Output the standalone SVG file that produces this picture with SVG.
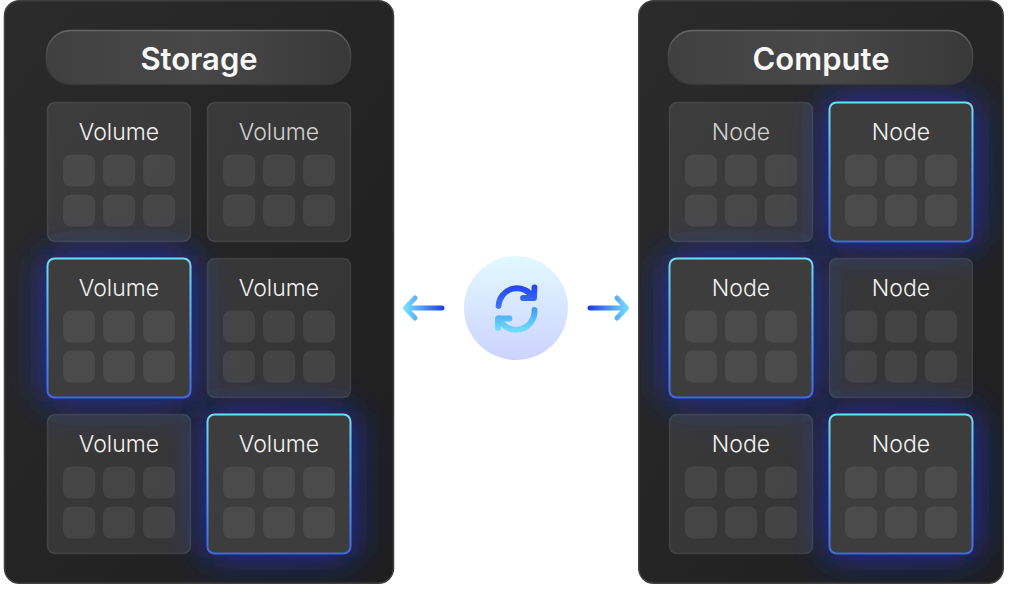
<svg xmlns="http://www.w3.org/2000/svg" width="1019" height="616" viewBox="0 0 1019 616">
<style>
text{font-family:"Inter","Liberation Sans",sans-serif;text-anchor:middle}
.head{font-size:31px;font-weight:600;fill:#f7f7f7}
.lab{font-size:23px;font-weight:300;fill:#f2f2f2}
.dim{fill:#d2d2d2}
.panel{fill:url(#panelFill);stroke:#3f3f3f;stroke-width:1.5}
.pill{fill:url(#pillFill);stroke:url(#pillStroke);stroke-width:1.5}
.tile{fill:#fff;fill-opacity:.09;stroke:#fff;stroke-opacity:.1;stroke-width:1.5}
.tileOn{fill:#3d3d3d;stroke:url(#onStroke);stroke-width:2}
.halo{fill:#1b35d8;fill-opacity:.72;filter:url(#blur)}
.c{fill:#fff;fill-opacity:.075}
.on .c{fill:#565656;fill-opacity:1}
.arrow{fill:none;stroke-width:5;stroke-linecap:round;stroke-linejoin:round}
.icon{stroke-width:5.8}
</style>
<defs>
<linearGradient id="panelFill" x1="0" y1="0" x2="1" y2="1"><stop offset="0" stop-color="#2b2b2b"/><stop offset="1" stop-color="#1e1e1e"/></linearGradient>
<linearGradient id="pillFill" x1="0" y1="0" x2="1" y2="0"><stop offset="0" stop-color="#404040"/><stop offset=".5" stop-color="#484848"/><stop offset="1" stop-color="#383838"/></linearGradient>
<linearGradient id="pillStroke" x1="0" y1="0" x2="0" y2="1"><stop offset="0" stop-color="#666"/><stop offset=".5" stop-color="#444"/><stop offset="1" stop-color="#363636"/></linearGradient>
<linearGradient id="onStroke" x1="0" y1="0" x2="0" y2="1"><stop offset="0" stop-color="#6fdcf6"/><stop offset="1" stop-color="#3f69e6"/></linearGradient>
<linearGradient id="circle" x1="0" y1="0" x2="0" y2="1"><stop offset="0" stop-color="#e2f9ff"/><stop offset="1" stop-color="#cdd3ff"/></linearGradient>
<linearGradient id="arcTop" gradientUnits="userSpaceOnUse" x1="0" y1="284" x2="0" y2="308"><stop offset="0" stop-color="#2340ee"/><stop offset="1" stop-color="#3f78f4"/></linearGradient>
<linearGradient id="arcBot" gradientUnits="userSpaceOnUse" x1="0" y1="308" x2="0" y2="331"><stop offset="0" stop-color="#3f9cf2"/><stop offset="1" stop-color="#72def9"/></linearGradient>
<linearGradient id="arrL" gradientUnits="userSpaceOnUse" x1="405" y1="0" x2="444" y2="0"><stop offset="0" stop-color="#76e0fb"/><stop offset="1" stop-color="#1f3de8"/></linearGradient>
<linearGradient id="arrR" gradientUnits="userSpaceOnUse" x1="589" y1="0" x2="628" y2="0"><stop offset="0" stop-color="#1f3de8"/><stop offset="1" stop-color="#76e0fb"/></linearGradient>
<filter id="blur" x="-50%" y="-50%" width="200%" height="200%"><feGaussianBlur stdDeviation="18"/></filter>
<clipPath id="clipL"><rect x="5" y="1" width="388" height="582" rx="15"/></clipPath>
<clipPath id="clipR"><rect x="639" y="1" width="364" height="582" rx="15"/></clipPath>
<g id="cells">
<rect class="c" x="16" y="52" width="32" height="32" rx="8"/><rect class="c" x="56" y="52" width="32" height="32" rx="8"/><rect class="c" x="96" y="52" width="32" height="32" rx="8"/>
<rect class="c" x="16" y="92" width="32" height="32" rx="8"/><rect class="c" x="56" y="92" width="32" height="32" rx="8"/><rect class="c" x="96" y="92" width="32" height="32" rx="8"/>
</g>
<rect id="t" x="0.5" y="0" width="143" height="139" rx="7"/>
<rect id="h" x="-4" y="-4" width="152" height="147" rx="12"/>
</defs>
<rect width="1019" height="616" fill="#fff"/>

<g id="storage-panel">
<rect class="panel" x="4.5" y="0.75" width="389" height="582.5" rx="15"/>
<g clip-path="url(#clipL)"><use href="#h" class="halo" x="47" y="258.5"/><use href="#h" class="halo" x="207" y="414.5"/></g>
</g>
<g id="compute-panel">
<rect class="panel" x="638.75" y="0.75" width="364.5" height="582.5" rx="15"/>
<g clip-path="url(#clipR)"><use href="#h" class="halo" x="829" y="102.5"/><use href="#h" class="halo" x="669" y="258.500"/><use href="#h" class="halo" x="829" y="414.5"/></g>
</g>

<g id="storage-title"><rect class="pill" x="46.5" y="30.5" width="304" height="54" rx="24"/><text class="head" x="199" y="70">Storage</text></g>
<g id="compute-title"><rect class="pill" x="668.5" y="30.5" width="304" height="54" rx="24"/><text class="head" x="821" y="70">Compute</text></g>

<g id="v1" transform="translate(47 102.5)"><use href="#t" class="tile"/><use href="#cells"/><text class="lab" x="72" y="37.500">Volume</text></g>
<g id="v2" transform="translate(207 102.5)"><use href="#t" class="tile"/><use href="#cells"/><text class="lab dim" x="72" y="37.500">Volume</text></g>
<g id="v3" class="on" transform="translate(47 258.5)"><use href="#t" class="tileOn"/><use href="#cells"/><text class="lab" x="72" y="37.500">Volume</text></g>
<g id="v4" transform="translate(207 258.5)"><use href="#t" class="tile"/><use href="#cells"/><text class="lab" x="72" y="37.500">Volume</text></g>
<g id="v5" transform="translate(47 414.5)"><use href="#t" class="tile"/><use href="#cells"/><text class="lab" x="72" y="37.500">Volume</text></g>
<g id="v6" class="on" transform="translate(207 414.5)"><use href="#t" class="tileOn"/><use href="#cells"/><text class="lab" x="72" y="37.500">Volume</text></g>

<g id="n1" transform="translate(669 102.5)"><use href="#t" class="tile"/><use href="#cells"/><text class="lab dim" x="72" y="37.500">Node</text></g>
<g id="n2" class="on" transform="translate(829 102.5)"><use href="#t" class="tileOn"/><use href="#cells"/><text class="lab" x="72" y="37.500">Node</text></g>
<g id="n3" class="on" transform="translate(669 258.5)"><use href="#t" class="tileOn"/><use href="#cells"/><text class="lab" x="72" y="37.500">Node</text></g>
<g id="n4" transform="translate(829 258.5)"><use href="#t" class="tile"/><use href="#cells"/><text class="lab" x="72" y="37.500">Node</text></g>
<g id="n5" transform="translate(669 414.5)"><use href="#t" class="tile"/><use href="#cells"/><text class="lab" x="72" y="37.500">Node</text></g>
<g id="n6" class="on" transform="translate(829 414.5)"><use href="#t" class="tileOn"/><use href="#cells"/><text class="lab" x="72" y="37.500">Node</text></g>

<g id="sync">
<circle cx="516" cy="308" r="52" fill="url(#circle)"/>
<path class="arrow icon" stroke="url(#arcTop)" d="M498.500 306 A18.500 18.500 0 0 1 533 297.500"/>
<path class="arrow icon" stroke="url(#arcTop)" d="M534.500 287.500 L534 298 L523 298"/>
<path class="arrow icon" stroke="url(#arcBot)" d="M534.500 310 A18.500 18.500 0 0 1 499 318.500"/>
<path class="arrow icon" stroke="url(#arcBot)" d="M498 328 L498 318.500 L509.500 318.500"/>
</g>
<g id="connectors">
<path class="arrow" stroke="url(#arrL)" d="M442 308 H406 M415 298 L405.500 308 L415 318"/>
<path class="arrow" stroke="url(#arrR)" d="M590 308 H626 M617 298 L626.500 308 L617 318"/>
</g>
</svg>
